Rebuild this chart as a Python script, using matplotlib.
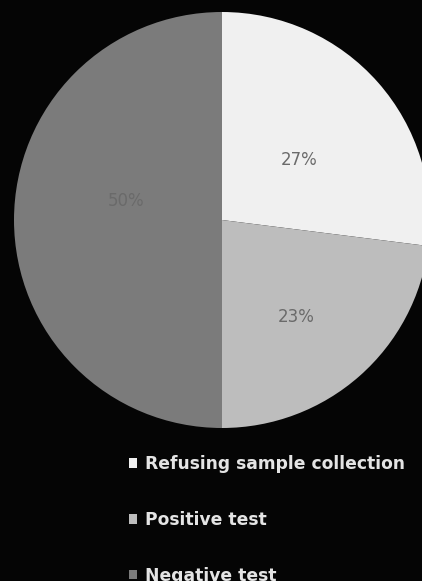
import numpy as np
import matplotlib.pyplot as plt

# data
categories = ["Refusing sample collection", "Positive test", "Negative test"]
shares = [27, 23, 50]
colors = ["#f0f0f0", "#bdbdbd", "#7b7b7b"]

# label spots (angle deg, fraction of radius)
lbl_angle = [37.6, -52.6, 169.0]
lbl_dist = [0.47, 0.59, 0.47]

fig = plt.figure(figsize=(4.22, 5.81), dpi=100)
fig.patch.set_facecolor("#050505")

ax = fig.add_axes([14/422, 153/581, 416/422, 416/581])
ax.set_facecolor("none")

wedges, texts, autotexts = ax.pie(shares, colors=colors, startangle=90,
                                  counterclock=False, radius=1.0,
                                  autopct="%d%%", pctdistance=0.5,
                                  wedgeprops=dict(linewidth=0))
for t, a, d in zip(autotexts, lbl_angle, lbl_dist):
	t.set_position((d*np.cos(np.radians(a)), d*np.sin(np.radians(a))))
	t.set_color("#6a6a6a")
	t.set_fontsize(12)

ax.set_xlim(-1, 1)
ax.set_ylim(-1, 1)
ax.set_aspect("equal")
ax.axis("off")

leg = fig.legend(wedges, categories, loc="upper left",
                 bbox_to_anchor=(129/422, 1 - 455/581), frameon=False,
                 handlelength=0.47, handleheight=0.47, handletextpad=0.47,
                 labelspacing=2.22, borderpad=0, borderaxespad=0,
                 prop=dict(weight="bold", size=12.3))
for t in leg.get_texts():
	t.set_color("#e4e4e4")

fig.savefig("out.png", dpi=100, facecolor=fig.get_facecolor())
